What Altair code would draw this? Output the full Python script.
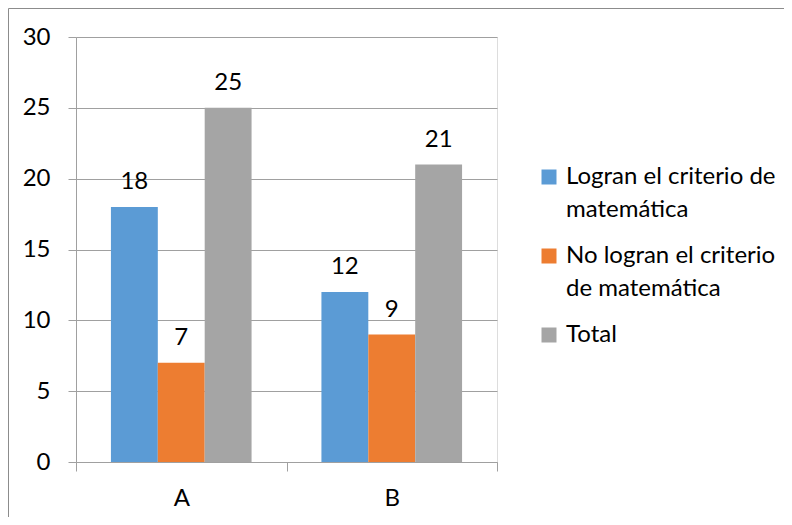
import altair as alt
import pandas as pd

grupos = ["A", "B"]
series = [
    "Logran el criterio de matemática",
    "No logran el criterio de matemática",
    "Total",
]
logran = [18, 12]
no_logran = [7, 9]
total = [25, 21]
colores = ["#5B9BD5", "#ED7D31", "#A5A5A5"]
y_ticks = [0, 5, 10, 15, 20, 25, 30]
legend_lines = {
    "Logran el criterio de matemática": ["Logran el criterio de", "matemática"],
    "No logran el criterio de matemática": ["No logran el criterio", "de matemática"],
    "Total": ["Total"],
}

rows = []
for serie, vals in zip(series, [logran, no_logran, total]):
    for g, v in zip(grupos, vals):
        rows.append({"grupo": g, "serie": serie, "valor": v})
df = pd.DataFrame(rows)

expr = "datum.label"
for k, lines in legend_lines.items():
    arr = "[" + ", ".join("'" + l + "'" for l in lines) + "]"
    expr = f"datum.label == '{k}' ? {arr} : ({expr})"

FONT = "Lato"
FS = 24
GRID = "#A0A0A0"

x_enc = alt.X(
    "grupo:N",
    sort=grupos,
    scale=alt.Scale(paddingInner=0, paddingOuter=0),
    axis=alt.Axis(
        title=None, labelAngle=0, tickBand="extent", tickSize=9,
        labelPadding=15, grid=False, domainColor=GRID, tickColor=GRID,
        labelFont=FONT, labelFontSize=FS, labelColor="#000000",
    ),
)
xoff_enc = alt.XOffset(
    "serie:N", sort=series,
    scale=alt.Scale(paddingInner=0, paddingOuter=0.745),
)
y_enc = alt.Y(
    "valor:Q",
    scale=alt.Scale(domain=[0, 30], nice=False),
    axis=alt.Axis(
        title=None, values=y_ticks, grid=True, gridColor=GRID, domainColor=GRID,
        tickColor=GRID, tickSize=8, labelPadding=18, labelFont=FONT,
        labelFontSize=FS, labelColor="#000000",
    ),
)

base = alt.Chart(df)
bars = base.mark_bar().encode(
    x=x_enc,
    xOffset=xoff_enc,
    y=y_enc,
    color=alt.Color(
        "serie:N", sort=series,
        scale=alt.Scale(domain=series, range=colores),
        legend=alt.Legend(
            title=None, orient="none", legendX=461, legendY=128, padding=0,
            symbolType="square", symbolSize=225, symbolStrokeWidth=0,
            symbolOpacity=1, labelOffset=5, rowPadding=22, labelLimit=400,
            labelFont=FONT, labelFontSize=FS, labelColor="#000000",
            labelBaseline="middle", labelExpr=expr,
        ),
    ),
)
labels = base.mark_text(
    baseline="alphabetic", dy=-18, font=FONT, fontSize=FS, color="#000000"
).encode(x=x_enc, xOffset=xoff_enc, y=y_enc, text="valor:Q")

border_top = alt.Chart(alt.Data(values=[{}])).mark_rule(color="#8C8C8C").encode(
    x=alt.value(-67.5), x2=alt.value(708), y=alt.value(-28.5)
)
border_left = alt.Chart(alt.Data(values=[{}])).mark_rule(color="#8C8C8C").encode(
    x=alt.value(-67.5), y=alt.value(-28.5), y2=alt.value(480)
)

chart = (
    alt.layer(bars, labels, border_top, border_left)
    .properties(
        width=421, height=425,
        autosize=alt.AutoSizeParams(type="none"),
        padding={"left": 68, "top": 29, "right": 287, "bottom": 55},
    )
    .configure_view(stroke=None)
    .configure(style={"guide-label": {"lineHeight": 33}})
)

chart.save("out.html", embed_options={"renderer": "svg", "actions": False})
